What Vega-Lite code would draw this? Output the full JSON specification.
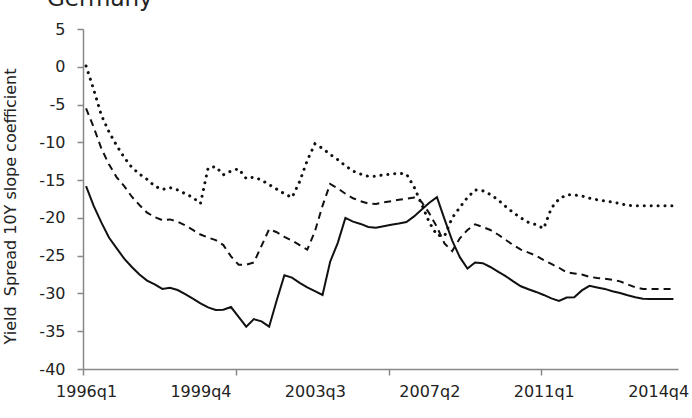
{
  "$schema": "https://vega.github.io/schema/vega-lite/v6.json",
  "width": 595,
  "height": 340,
  "autosize": {"type": "none"},
  "padding": {"left": 83, "top": 29, "right": 14, "bottom": 49},
  "background": "white",
  "config": {"view": {"stroke": null}, "font": "DejaVu Sans"},
  "title": {"text": "Germany", "anchor": "start", "frame": "group", "orient": "top", "offset": 0, "dx": -36, "dy": 8, "baseline": "alphabetic", "font": "DejaVu Sans", "fontSize": 23, "fontWeight": "normal", "color": "#222"},
  "datasets": {
    "series": [
      {"t":0,"s":"dot","v":0.1},{"t":1,"s":"dot","v":-3.0},{"t":2,"s":"dot","v":-6.4},{"t":3,"s":"dot","v":-8.6},{"t":4,"s":"dot","v":-10.4},{"t":5,"s":"dot","v":-12.0},{"t":6,"s":"dot","v":-13.3},{"t":7,"s":"dot","v":-14.2},{"t":8,"s":"dot","v":-14.9},{"t":9,"s":"dot","v":-15.8},
      {"t":10,"s":"dot","v":-16.25},{"t":11,"s":"dot","v":-16.0},{"t":12,"s":"dot","v":-16.3},{"t":13,"s":"dot","v":-16.8},{"t":14,"s":"dot","v":-17.3},{"t":15,"s":"dot","v":-18.1},{"t":16,"s":"dot","v":-13.4},{"t":17,"s":"dot","v":-13.2},{"t":18,"s":"dot","v":-14.3},{"t":19,"s":"dot","v":-13.8},
      {"t":20,"s":"dot","v":-13.5},{"t":21,"s":"dot","v":-14.8},{"t":22,"s":"dot","v":-14.6},{"t":23,"s":"dot","v":-15.0},{"t":24,"s":"dot","v":-15.6},{"t":25,"s":"dot","v":-16.2},{"t":26,"s":"dot","v":-16.8},{"t":27,"s":"dot","v":-17.3},{"t":28,"s":"dot","v":-15.2},{"t":29,"s":"dot","v":-12.4},
      {"t":30,"s":"dot","v":-10.2},{"t":31,"s":"dot","v":-10.8},{"t":32,"s":"dot","v":-11.6},{"t":33,"s":"dot","v":-12.3},{"t":34,"s":"dot","v":-13.1},{"t":35,"s":"dot","v":-13.8},{"t":36,"s":"dot","v":-14.2},{"t":37,"s":"dot","v":-14.5},{"t":38,"s":"dot","v":-14.5},{"t":39,"s":"dot","v":-14.3},
      {"t":40,"s":"dot","v":-14.2},{"t":41,"s":"dot","v":-14.1},{"t":42,"s":"dot","v":-14.2},{"t":43,"s":"dot","v":-15.9},{"t":44,"s":"dot","v":-18.2},{"t":45,"s":"dot","v":-20.6},{"t":46,"s":"dot","v":-22.3},{"t":47,"s":"dot","v":-22.4},{"t":48,"s":"dot","v":-20.0},{"t":49,"s":"dot","v":-18.6},
      {"t":50,"s":"dot","v":-17.3},{"t":51,"s":"dot","v":-16.3},{"t":52,"s":"dot","v":-16.4},{"t":53,"s":"dot","v":-16.9},{"t":54,"s":"dot","v":-17.6},{"t":55,"s":"dot","v":-18.5},{"t":56,"s":"dot","v":-19.3},{"t":57,"s":"dot","v":-20.0},{"t":58,"s":"dot","v":-20.6},{"t":59,"s":"dot","v":-20.9},
      {"t":60,"s":"dot","v":-21.4},{"t":61,"s":"dot","v":-18.7},{"t":62,"s":"dot","v":-17.5},{"t":63,"s":"dot","v":-16.95},{"t":64,"s":"dot","v":-16.95},{"t":65,"s":"dot","v":-17.1},{"t":66,"s":"dot","v":-17.4},{"t":67,"s":"dot","v":-17.6},{"t":68,"s":"dot","v":-17.75},{"t":69,"s":"dot","v":-17.9},
      {"t":70,"s":"dot","v":-18.1},{"t":71,"s":"dot","v":-18.35},{"t":72,"s":"dot","v":-18.4},{"t":73,"s":"dot","v":-18.4},{"t":74,"s":"dot","v":-18.4},{"t":75,"s":"dot","v":-18.4},{"t":76,"s":"dot","v":-18.4},{"t":77,"s":"dot","v":-18.4},

      {"t":0,"s":"dash","v":-5.5},{"t":1,"s":"dash","v":-8.0},{"t":2,"s":"dash","v":-10.8},{"t":3,"s":"dash","v":-12.9},{"t":4,"s":"dash","v":-14.6},{"t":5,"s":"dash","v":-15.8},{"t":6,"s":"dash","v":-17.2},{"t":7,"s":"dash","v":-18.3},{"t":8,"s":"dash","v":-19.3},{"t":9,"s":"dash","v":-19.9},
      {"t":10,"s":"dash","v":-20.3},{"t":11,"s":"dash","v":-20.2},{"t":12,"s":"dash","v":-20.5},{"t":13,"s":"dash","v":-21.0},{"t":14,"s":"dash","v":-21.6},{"t":15,"s":"dash","v":-22.2},{"t":16,"s":"dash","v":-22.6},{"t":17,"s":"dash","v":-22.95},{"t":18,"s":"dash","v":-23.6},{"t":19,"s":"dash","v":-25.1},
      {"t":20,"s":"dash","v":-26.2},{"t":21,"s":"dash","v":-26.2},{"t":22,"s":"dash","v":-25.9},{"t":23,"s":"dash","v":-23.7},{"t":24,"s":"dash","v":-21.5},{"t":25,"s":"dash","v":-21.9},{"t":26,"s":"dash","v":-22.5},{"t":27,"s":"dash","v":-23.0},{"t":28,"s":"dash","v":-23.6},{"t":29,"s":"dash","v":-24.2},
      {"t":30,"s":"dash","v":-21.8},{"t":31,"s":"dash","v":-18.4},{"t":32,"s":"dash","v":-15.5},{"t":33,"s":"dash","v":-16.1},{"t":34,"s":"dash","v":-16.8},{"t":35,"s":"dash","v":-17.4},{"t":36,"s":"dash","v":-17.8},{"t":37,"s":"dash","v":-18.1},{"t":38,"s":"dash","v":-18.15},{"t":39,"s":"dash","v":-17.95},
      {"t":40,"s":"dash","v":-17.8},{"t":41,"s":"dash","v":-17.6},{"t":42,"s":"dash","v":-17.45},{"t":43,"s":"dash","v":-17.3},{"t":44,"s":"dash","v":-17.9},{"t":45,"s":"dash","v":-19.4},{"t":46,"s":"dash","v":-21.2},{"t":47,"s":"dash","v":-23.4},{"t":48,"s":"dash","v":-24.4},{"t":49,"s":"dash","v":-22.7},
      {"t":50,"s":"dash","v":-21.6},{"t":51,"s":"dash","v":-20.85},{"t":52,"s":"dash","v":-21.2},{"t":53,"s":"dash","v":-21.6},{"t":54,"s":"dash","v":-22.2},{"t":55,"s":"dash","v":-22.9},{"t":56,"s":"dash","v":-23.6},{"t":57,"s":"dash","v":-24.2},{"t":58,"s":"dash","v":-24.6},{"t":59,"s":"dash","v":-25.0},
      {"t":60,"s":"dash","v":-25.6},{"t":61,"s":"dash","v":-26.1},{"t":62,"s":"dash","v":-26.6},{"t":63,"s":"dash","v":-27.2},{"t":64,"s":"dash","v":-27.35},{"t":65,"s":"dash","v":-27.5},{"t":66,"s":"dash","v":-27.8},{"t":67,"s":"dash","v":-27.95},{"t":68,"s":"dash","v":-28.05},{"t":69,"s":"dash","v":-28.2},
      {"t":70,"s":"dash","v":-28.4},{"t":71,"s":"dash","v":-28.8},{"t":72,"s":"dash","v":-29.2},{"t":73,"s":"dash","v":-29.4},{"t":74,"s":"dash","v":-29.4},{"t":75,"s":"dash","v":-29.4},{"t":76,"s":"dash","v":-29.4},{"t":77,"s":"dash","v":-29.4},

      {"t":0,"s":"solid","v":-15.8},{"t":1,"s":"solid","v":-18.4},{"t":2,"s":"solid","v":-20.6},{"t":3,"s":"solid","v":-22.6},{"t":4,"s":"solid","v":-24.0},{"t":5,"s":"solid","v":-25.4},{"t":6,"s":"solid","v":-26.5},{"t":7,"s":"solid","v":-27.5},{"t":8,"s":"solid","v":-28.3},{"t":9,"s":"solid","v":-28.8},
      {"t":10,"s":"solid","v":-29.4},{"t":11,"s":"solid","v":-29.25},{"t":12,"s":"solid","v":-29.55},{"t":13,"s":"solid","v":-30.1},{"t":14,"s":"solid","v":-30.7},{"t":15,"s":"solid","v":-31.3},{"t":16,"s":"solid","v":-31.85},{"t":17,"s":"solid","v":-32.2},{"t":18,"s":"solid","v":-32.15},{"t":19,"s":"solid","v":-31.8},
      {"t":20,"s":"solid","v":-33.1},{"t":21,"s":"solid","v":-34.4},{"t":22,"s":"solid","v":-33.4},{"t":23,"s":"solid","v":-33.7},{"t":24,"s":"solid","v":-34.4},{"t":25,"s":"solid","v":-30.9},{"t":26,"s":"solid","v":-27.6},{"t":27,"s":"solid","v":-27.9},{"t":28,"s":"solid","v":-28.6},{"t":29,"s":"solid","v":-29.2},
      {"t":30,"s":"solid","v":-29.7},{"t":31,"s":"solid","v":-30.2},{"t":32,"s":"solid","v":-25.8},{"t":33,"s":"solid","v":-23.3},{"t":34,"s":"solid","v":-20.0},{"t":35,"s":"solid","v":-20.5},{"t":36,"s":"solid","v":-20.8},{"t":37,"s":"solid","v":-21.2},{"t":38,"s":"solid","v":-21.3},{"t":39,"s":"solid","v":-21.1},
      {"t":40,"s":"solid","v":-20.9},{"t":41,"s":"solid","v":-20.75},{"t":42,"s":"solid","v":-20.55},{"t":43,"s":"solid","v":-19.8},{"t":44,"s":"solid","v":-18.9},{"t":45,"s":"solid","v":-18.0},{"t":46,"s":"solid","v":-17.25},{"t":47,"s":"solid","v":-20.2},{"t":48,"s":"solid","v":-23.0},{"t":49,"s":"solid","v":-25.2},
      {"t":50,"s":"solid","v":-26.7},{"t":51,"s":"solid","v":-25.9},{"t":52,"s":"solid","v":-26.0},{"t":53,"s":"solid","v":-26.5},{"t":54,"s":"solid","v":-27.1},{"t":55,"s":"solid","v":-27.7},{"t":56,"s":"solid","v":-28.4},{"t":57,"s":"solid","v":-29.05},{"t":58,"s":"solid","v":-29.45},{"t":59,"s":"solid","v":-29.8},
      {"t":60,"s":"solid","v":-30.2},{"t":61,"s":"solid","v":-30.65},{"t":62,"s":"solid","v":-31.0},{"t":63,"s":"solid","v":-30.55},{"t":64,"s":"solid","v":-30.5},{"t":65,"s":"solid","v":-29.6},{"t":66,"s":"solid","v":-29.0},{"t":67,"s":"solid","v":-29.2},{"t":68,"s":"solid","v":-29.4},{"t":69,"s":"solid","v":-29.7},
      {"t":70,"s":"solid","v":-29.95},{"t":71,"s":"solid","v":-30.25},{"t":72,"s":"solid","v":-30.5},{"t":73,"s":"solid","v":-30.7},{"t":74,"s":"solid","v":-30.75},{"t":75,"s":"solid","v":-30.75},{"t":76,"s":"solid","v":-30.75},{"t":77,"s":"solid","v":-30.75}
    ]
  },
  "data": {"name": "series"},
  "encoding": {
    "y": {
      "field": "v", "type": "quantitative",
      "scale": {"domain": [-40, 5], "nice": false, "zero": false},
      "axis": {
        "values": [-40, -35, -30, -25, -20, -15, -10, -5, 0, 5],
        "labelExpr": "'' + datum.value",
        "grid": false, "tickSize": 6, "tickColor": "#888", "tickWidth": 1.5,
        "domainColor": "#888", "domainWidth": 1.5,
        "labelFont": "DejaVu Sans", "labelFontSize": 16, "labelColor": "#222", "labelPadding": 12,
        "title": "Yield\u00a0 Spread 10Y slope coefficient",
        "titleFont": "DejaVu Sans", "titleFontSize": 16, "titleFontWeight": "normal", "titleColor": "#222", "titlePadding": 20, "titleY": 177
      }
    }
  },
  "layer": [
    {
      "transform": [{"filter": "datum.s == 'solid'"}],
      "mark": {"type": "line", "color": "#111", "strokeWidth": 2},
      "encoding": {
        "x": {
          "field": "t", "type": "quantitative",
          "scale": {"domain": [-0.4, 77.6], "nice": false, "zero": false},
          "axis": {
            "orient": "bottom", "values": [0, 15, 30, 45, 60, 75],
            "labelExpr": "(1996 + floor(datum.value / 4)) + 'q' + (datum.value % 4 + 1)",
            "ticks": false, "domain": false, "grid": false,
            "labelFont": "DejaVu Sans", "labelFontSize": 16, "labelColor": "#222", "labelPadding": 14,
            "labelFlush": false, "labelOverlap": false, "labelBound": false, "title": null
          }
        }
      }
    },
    {
      "transform": [{"filter": "datum.s == 'dash'"}],
      "mark": {"type": "line", "color": "#111", "strokeWidth": 2, "strokeDash": [7, 5]},
      "encoding": {
        "x": {
          "field": "t", "type": "quantitative",
          "scale": {"domain": [-0.4, 77.6], "nice": false, "zero": false},
          "axis": {
            "orient": "bottom", "values": [-0.4, 19.65, 39.7, 59.6],
            "labels": false, "ticks": true, "tickSize": 6, "tickColor": "#888", "tickWidth": 1.5,
            "domain": true, "domainColor": "#888", "domainWidth": 1.5, "grid": false, "title": null
          }
        }
      }
    },
    {
      "transform": [{"filter": "datum.s == 'dot'"}],
      "mark": {"type": "line", "color": "#111", "strokeWidth": 3, "strokeCap": "round", "strokeDash": [0.1, 6.8]},
      "encoding": {
        "x": {
          "field": "t", "type": "quantitative",
          "scale": {"domain": [-0.4, 77.6], "nice": false, "zero": false},
          "axis": null
        }
      }
    }
  ],
  "resolve": {"axis": {"x": "independent"}}
}
